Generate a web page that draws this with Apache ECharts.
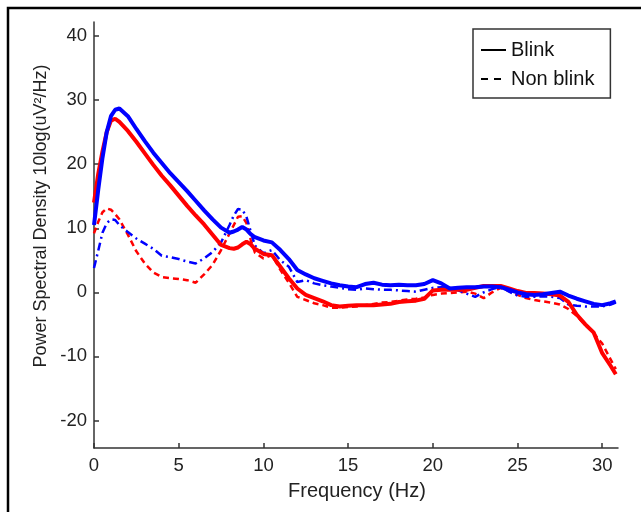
<!DOCTYPE html>
<html>
<head>
<meta charset="utf-8">
<script src="https://cdn.jsdelivr.net/npm/echarts@6/dist/echarts.min.js"></script>
<style>
html,body{margin:0;padding:0;background:#fff;}
#chart{width:641px;height:512px;}
</style>
</head>
<body>
<div id="chart"></div>
<script>
// Frequencies (Hz)
var freq = [0,0.25,0.5,0.75,1,1.25,1.5,2,2.5,3,3.5,4,4.5,5,5.5,6,6.5,7,7.5,8,8.25,8.5,8.75,9,9.25,9.5,10,10.5,11,11.5,12,12.5,13,13.5,14,14.5,15,15.5,16,16.5,17,17.5,18,18.5,19,19.5,20,20.5,21,21.5,22,22.5,23,23.5,24,24.5,25,25.5,26,26.5,27,27.5,28,28.5,29,29.5,30,30.5,30.8];

// Blink, blue (solid)
var blinkBlue = [10.5,16,21,25,27.5,28.5,28.7,27.5,25.5,23.6,21.8,20.2,18.6,17.2,15.8,14.3,12.8,11.4,10.1,9.3,9.5,9.8,10.2,9.8,9.1,8.6,8.1,7.8,6.6,5.2,3.5,2.8,2.2,1.8,1.4,1.1,0.9,0.8,1.3,1.5,1.2,1.1,1.2,1.1,1.1,1.3,1.9,1.4,0.6,0.7,0.8,0.8,0.9,0.9,0.8,0.4,0,-0.3,-0.4,-0.3,-0.1,0.1,-0.5,-1.0,-1.4,-1.8,-2.0,-1.7,-1.4];

// Blink, red (solid)
var blinkRed = [14,18.5,22,25,26.8,27.1,26.6,25.2,23.5,21.7,19.9,18.2,16.7,15.1,13.5,12.0,10.6,9.0,7.4,6.9,6.8,7.0,7.5,7.9,7.5,6.8,6.0,5.8,4.0,2.2,0.6,-0.4,-0.9,-1.4,-2.0,-2.2,-2.1,-2.0,-2.0,-2.0,-1.9,-1.8,-1.5,-1.4,-1.3,-1.0,0.3,0.4,0.4,0.4,0.4,0.7,1.0,1.0,1.0,0.6,0.2,-0.1,-0.1,-0.2,-0.3,-0.5,-1.5,-3.5,-5.0,-6.3,-9.5,-11.5,-12.8];

// Non blink, blue (dash-dot)
var nonBlinkBlue = [3.8,6.5,9.3,10.8,11.4,11.3,10.5,9.4,8.4,7.6,6.8,5.7,5.5,5.2,4.8,4.5,5.3,6.3,7.8,10.5,12.0,13.0,12.9,11.8,9.5,7.3,6.1,6.6,5.0,4.0,1.6,1.9,1.4,1.1,0.9,0.7,0.5,0.4,0.6,0.5,0.4,0.4,0.3,0.2,0.1,0.4,0.7,0.8,0.7,0.3,-0.2,-0.7,0.0,0.5,0.9,0.1,-0.5,-0.7,-0.7,-0.6,-0.7,-0.9,-1.9,-2.1,-2.2,-2.2,-2.2,-1.9,-1.6];

// Non blink, red (dashed)
var nonBlinkRed = [9.2,11,12.5,13.1,12.9,12.2,11.4,9.0,6.4,4.5,3.1,2.4,2.2,2.1,1.9,1.5,2.8,4.3,6.6,9.2,10.5,11.8,11.9,10.8,8.2,6.2,5.3,5.8,3.5,1.5,-0.7,-1.2,-1.7,-2.0,-2.4,-2.4,-2.3,-2.2,-2.0,-1.8,-1.6,-1.5,-1.3,-1.1,-1.0,-0.8,-0.4,-0.2,-0.1,0.0,0.1,-0.2,-0.9,0.0,0.7,0.2,-0.4,-0.9,-1.2,-1.4,-1.6,-1.9,-2.6,-3.7,-5.1,-6.4,-8.0,-10.5,-12.0];

var xTicks = [0,5,10,15,20,25,30];
var yTicks = [-20,-10,0,10,20,30,40];
var legendNames = ['Blink','Non blink'];

function pairs(ys){ return freq.map(function(f,i){ return [f, ys[i]]; }); }

var chart = echarts.init(document.getElementById('chart'), null, {renderer:'canvas'});
var font = 'Liberation Sans, Arial, sans-serif';
var axisColor = '#333';

chart.setOption({
  animation:false,
  backgroundColor:'#fff',
  grid:{left:94,right:23,top:22,bottom:64,containLabel:false},
  legend:{
    orient:'vertical',
    left:473, top:29,
    padding:[11,16,9,7],
    itemGap:9,
    itemWidth:25,
    itemHeight:12,
    borderColor:'#333',
    borderWidth:1.5,
    backgroundColor:'#fff',
    itemStyle:{opacity:0},
    textStyle:{fontFamily:font,fontSize:20,color:'#111'},
    data:legendNames
  },
  xAxis:{
    type:'value', min:0, max:30.93,
    axisLine:{show:true,onZero:false,lineStyle:{color:axisColor,width:1.5}},
    axisTick:{show:true,inside:true,length:5,customValues:xTicks,lineStyle:{color:axisColor,width:1.5}},
    axisLabel:{customValues:xTicks,margin:8,fontFamily:font,fontSize:18.5,color:'#222'},
    splitLine:{show:false}
  },
  yAxis:{
    type:'value', min:-24.3, max:42.2,
    axisLine:{show:true,onZero:false,lineStyle:{color:axisColor,width:1.5}},
    axisTick:{show:true,inside:true,length:5,customValues:yTicks,lineStyle:{color:axisColor,width:1.5}},
    axisLabel:{customValues:yTicks,margin:7,fontFamily:font,fontSize:18.5,color:'#222'},
    splitLine:{show:false}
  },
  graphic:[
    {type:'polyline',shape:{points:[[8,512],[8,8],[641,8]]},style:{stroke:'#000',lineWidth:2.5,fill:null},silent:true},
    {type:'text',x:41,y:216,rotation:Math.PI/2,style:{text:'Power Spectral Density 10log(uV\u00B2/Hz)',font:'18px Liberation Sans, Arial, sans-serif',fill:'#222',align:'center',verticalAlign:'middle'}},
    {type:'text',x:357,y:491,style:{text:'Frequency (Hz)',font:'20px Liberation Sans, Arial, sans-serif',fill:'#222',align:'center',verticalAlign:'middle'}}
  ],
  series:[
    {name:'Blink',type:'line',data:[],symbol:'none',lineStyle:{color:'#000',width:1.5,type:'solid'},itemStyle:{color:'#000'}},
    {name:'Non blink',type:'line',data:[],symbol:'none',lineStyle:{color:'#000',width:1.5,type:[7,6]},itemStyle:{color:'#000'}},
    {name:'Non blink red',type:'line',data:pairs(nonBlinkRed),symbol:'none',lineStyle:{color:'#ff0000',width:2.5,type:[6,4]},z:2},
    {name:'Non blink blue',type:'line',data:pairs(nonBlinkBlue),symbol:'none',lineStyle:{color:'#0000ff',width:2.5,type:[8,4,2,4]},z:2},
    {name:'Blink red',type:'line',data:pairs(blinkRed),symbol:'none',lineStyle:{color:'#ff0000',width:4},z:3},
    {name:'Blink blue',type:'line',data:pairs(blinkBlue),symbol:'none',lineStyle:{color:'#0000ff',width:4},z:4}
  ]
});
</script>
</body>
</html>
